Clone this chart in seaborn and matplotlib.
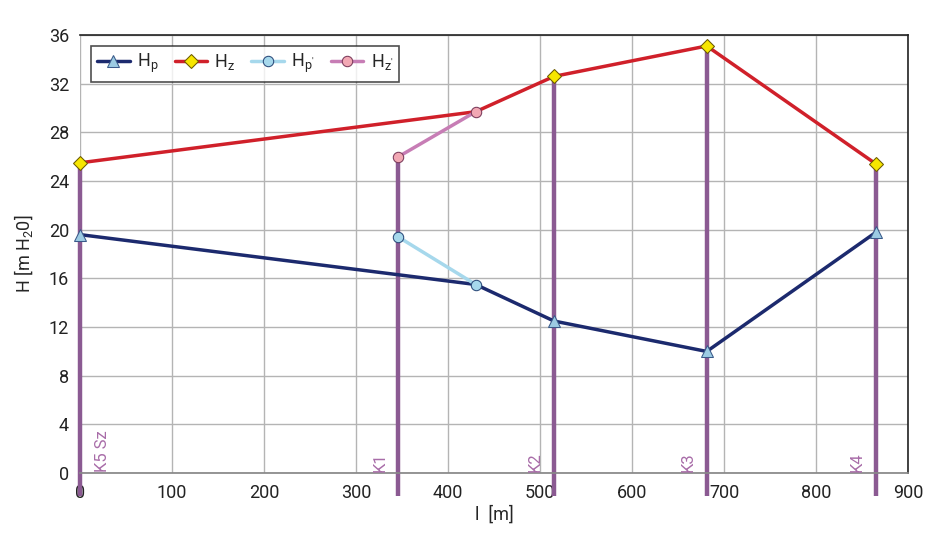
import matplotlib
matplotlib.use("Agg")
import matplotlib.pyplot as plt
import seaborn as sns
import numpy as np

# node positions along the pipe [m]
node_names = ["K5 Sz", "K1", "K2", "K3", "K4"]
node_x = [0, 346, 515, 681, 865]
node_top = [25.5, 26.0, 32.6, 35.1, 25.4]

hp_x = [0, 430, 515, 681, 865]
hp_y = [19.6, 15.5, 12.5, 10.0, 19.8]
hz_x = [0, 430, 515, 681, 865]
hz_y = [25.5, 29.7, 32.6, 35.1, 25.4]
hp2_x = [346, 430]
hp2_y = [19.4, 15.5]
hz2_x = [346, 430]
hz2_y = [26.0, 29.7]

sns.set_theme(style="whitegrid")
plt.rcParams["font.family"] = ["Roboto", "DejaVu Sans"]

fig = plt.figure(figsize=(9.38, 5.56), dpi=100)
ax = fig.add_axes([0.0853, 0.149, 0.883, 0.788])

purple = "#8b5a92"
for name, x, top in zip(node_names, node_x, node_top):
    ax.plot([x, x], [-1.9, top], color=purple, lw=3.2, zorder=2, clip_on=False,
            solid_capstyle="butt")
    if x == 0:
        ax.text(x + 16, 0.1, name, rotation=90, color="#a86ca8", fontsize=12,
                ha="left", va="bottom")
    else:
        ax.text(x - 12, 0.1, name, rotation=90, color="#a86ca8", fontsize=12,
                ha="right", va="bottom")

# the shared point at 430 m is marked only by the primed series
keep = [0, 2, 3, 4]
sns.lineplot(x=hp_x, y=hp_y, ax=ax, color="#1c2a6e", lw=2.5, marker="^",
             markersize=8, markerfacecolor="#9ccbe3", markeredgecolor="#3a5a8a",
             markevery=keep, label="H$_\\mathregular{p}$", zorder=4, sort=False,
             clip_on=False)
sns.lineplot(x=hz_x, y=hz_y, ax=ax, color="#d0202a", lw=2.5, marker="D",
             markersize=7, markerfacecolor="#f7e600", markeredgecolor="#6b5a00",
             markevery=keep, label="H$_\\mathregular{z}$", zorder=4, sort=False,
             clip_on=False)
sns.lineplot(x=hp2_x, y=hp2_y, ax=ax, color="#a6d8ec", lw=2.5, marker="o",
             markersize=7.5, markerfacecolor="#a6d8ec", markeredgecolor="#2a4a7a",
             label="H$_\\mathregular{p'}$", zorder=5, sort=False)
sns.lineplot(x=hz2_x, y=hz2_y, ax=ax, color="#c77db5", lw=2.5, marker="o",
             markersize=7.5, markerfacecolor="#f2a8b4", markeredgecolor="#7a3a5a",
             label="H$_\\mathregular{z'}$", zorder=5, sort=False)

ax.set_xlim(0, 900)
ax.set_ylim(0, 36)
ax.set_xticks(np.arange(0, 901, 100))
ax.set_yticks(np.arange(0, 37, 4))
ax.grid(True, color="#b4b4b4", lw=1)
ax.tick_params(axis="both", labelsize=13, colors="#222222", length=0, pad=8)
for side in ["top", "right"]:
    ax.spines[side].set_color("#222222")
    ax.spines[side].set_linewidth(1.2)
ax.spines["bottom"].set_color("#888888")
ax.spines["left"].set_visible(False)

ax.set_xlabel("l  [m]", fontsize=13, labelpad=2)
ax.set_ylabel("H [m H$_\\mathregular{2}$0]", fontsize=13, labelpad=10)

leg = ax.legend(loc="upper left", ncol=4, fontsize=13, frameon=True,
                fancybox=False, edgecolor="#222222", handlelength=1.8,
                handletextpad=0.4, columnspacing=0.9, borderaxespad=0.6,
                borderpad=0.35)
leg.get_frame().set_linewidth(1.2)

fig.savefig("out.png", dpi=100, facecolor="white")
